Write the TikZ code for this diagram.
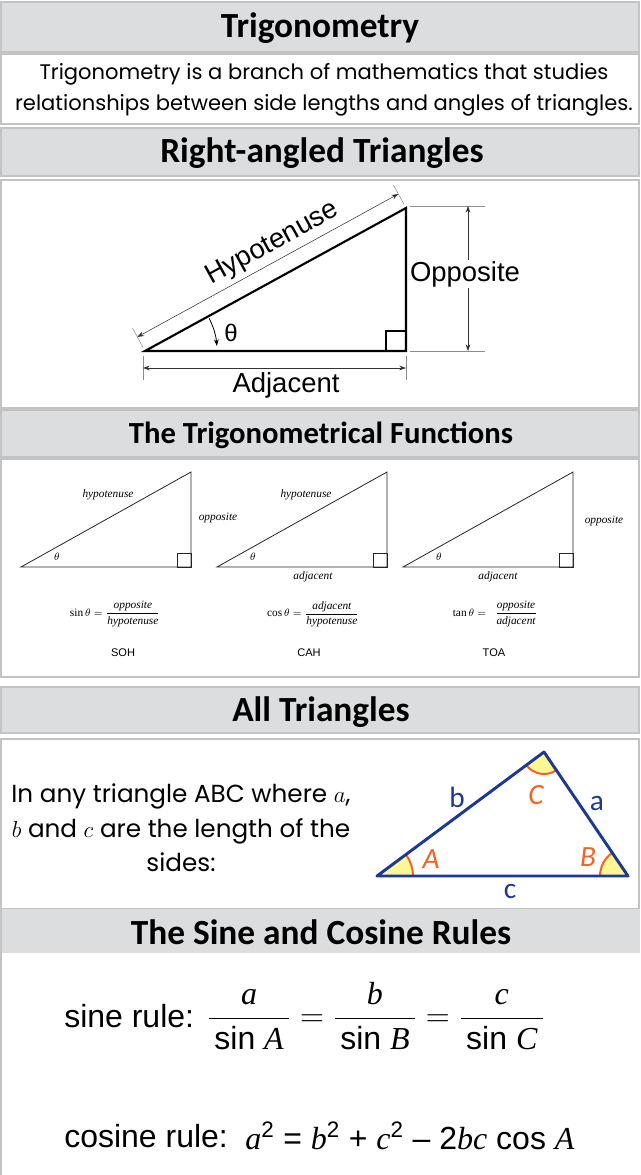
\documentclass[tikz,border=0pt]{standalone}
\usepackage{amsmath}
\usepackage{fontspec}
\setmainfont{Liberation Serif}
\setsansfont{Liberation Sans}
\newfontfamily\headfont{Carlito}
\newfontfamily\comicfont{Poppins}
\usetikzlibrary{arrows.meta, calc}
\definecolor{xBand}{RGB}{220,221,223}
\definecolor{xEdge}{RGB}{194,195,197}
\definecolor{xBlue}{RGB}{28,56,148}
\definecolor{xOrange}{RGB}{242,101,34}
\definecolor{xYellow}{RGB}{255,246,150}
\newcommand{\tv}[1]{\textrm{\itshape #1}}
\tikzset{
  band/.style={fill=xBand, draw=xEdge, line width=1.8pt},
  panel/.style={fill=white, draw=xEdge, line width=1.8pt},
  heading/.style={font=\headfont\bfseries\fontsize{26.5}{30}\selectfont, inner sep=0pt},
  subheading/.style={font=\headfont\bfseries\fontsize{23}{26}\selectfont, inner sep=0pt},
  blurb/.style={font=\comicfont\fontsize{15.8}{23}\selectfont, align=center, inner sep=0pt},
  sidetext/.style={font=\sffamily\fontsize{20.6}{24}\selectfont, inner sep=1pt},
  tag/.style={font=\rmfamily\itshape\fontsize{8.5}{10}\selectfont, inner sep=0pt},
  formula/.style={font=\rmfamily\fontsize{8.5}{10}\selectfont, inner sep=0pt},
  mnemo/.style={font=\sffamily\fontsize{8.3}{10}\selectfont, inner sep=0pt},
  side/.style={font=\headfont\fontsize{22}{24}\selectfont, text=xBlue, inner sep=0pt},
  corner/.style={font=\headfont\itshape\fontsize{22}{24}\selectfont, text=xOrange, inner sep=0pt},
  rule/.style={font=\sffamily\fontsize{24}{28}\selectfont, inner sep=0pt, anchor=west},
  dimline/.style={{Stealth[length=5pt, width=3.5pt]}-{Stealth[length=5pt, width=3.5pt]}, line width=0.4pt, black!80},
  extline/.style={line width=0.4pt, black!45},
  bigtri/.style={line width=1.6pt},
  smalltri/.style={line width=0.6pt, black!85},
}

\begin{document}
\begin{tikzpicture}[x=0.75pt, y=-0.75pt]
    \useasboundingbox (0,0) rectangle (640,1175);
    % bands and panels
    \draw[band]  (1,2)   rectangle (639,52);
    \draw[panel] (1,54)  rectangle (639,124);
    \draw[band]  (1,128) rectangle (639,176);
    \draw[panel] (1,180) rectangle (639,408);
    \draw[band]  (1,410) rectangle (639,457);
    \draw[panel] (1,459) rectangle (639,677);
    \draw[band]  (1,687) rectangle (639,733);
    \draw[panel] (1,739) rectangle (639,909);
    \fill[xBand] (0,909) rectangle (640,953);
    \draw[xEdge, line width=1.8pt] (1,909) -- (1,1175);

    \node[heading] (hTrig) at (320,28) {Trigonometry};
    \node[blurb] (bIntro) at (324,90) {Trigonometry is a branch of mathematics that studies\\relationships between side lengths and angles of triangles.};
    \node[heading] (hRight) at (322,153) {Right-angled Triangles};
    \node[subheading] (hFunc) at (321,435) {The Trigonometrical Functions};
    \node[heading] (hAll) at (321,712) {All Triangles};
    \node[heading] (hRules) at (321,932) {The Sine and Cosine Rules};

    % right-angled triangle
    \coordinate (rA) at (145,351);
    \coordinate (rR) at (406,351);
    \coordinate (rT) at (406,208);
    \draw[bigtri] (rA) -- (rR) -- (rT) -- cycle;
    \draw[line width=0.8pt] ($(rR)+(-20,0)$) rectangle ($(rR)+(0,-20)$);
    \coordinate (rA1) at ($(rA)+(-7.7,-14)$);
    \coordinate (rT1) at ($(rT)+(-7.7,-14)$);
    \draw[extline] ($(rA)+(-1.9,-3.5)$) -- ($(rA)+(-12.5,-22.8)$);
    \draw[extline] ($(rT)+(-1.9,-3.5)$) -- ($(rT)+(-12.5,-22.8)$);
    \draw[dimline] (rA1) -- (rT1);
    \node[sidetext, rotate=28.7] (tHyp) at (272.5,244) {Hypotenuse};
    \draw[extline] (410,206) -- (485,206);
    \draw[extline] (410,351) -- (485,351);
    \coordinate (rO1) at (468,206);
    \coordinate (rO2) at (468,351);
    \draw[dimline] (rO1) -- (rO2);
    \node[sidetext, fill=white] (tOpp) at (465,274) {Opposite};
    \draw[extline] (143,356) -- (143,380);
    \draw[extline] (406,356) -- (406,380);
    \coordinate (rB1) at (143,368);
    \coordinate (rB2) at (406,368);
    \draw[dimline] (rB1) -- (rB2);
    \node[sidetext] (tAdj) at (286,385) {Adjacent};
    \draw[-{Stealth[length=5pt, width=3.5pt]}, line width=0.6pt] ($(rA)+(-27:72)$) arc[start angle=-27, end angle=-4, radius=72];
    \node[font=\sffamily\fontsize{18}{20}\selectfont, inner sep=0pt] (tTheta) at (231,333) {θ};

    % the three function triangles
    \foreach \ox in {21,217,403} {
      \draw[smalltri] (\ox,567) -- ++(170,0) -- ++(0,-95) -- cycle;
      \draw[smalltri] (\ox+156,567) rectangle ++(14,-14);
      \node[tag] at (\ox+36,557) {$\theta$};
    }
    \node[tag] (sHyp1) at (108,495) {hypotenuse};
    \node[tag] (sOpp1) at (218,518) {opposite};
    \node[tag] (sHyp2) at (306,495) {hypotenuse};
    \node[tag] (sAdj2) at (313,577) {adjacent};
    \node[tag] (sAdj3) at (498,577) {adjacent};
    \node[tag] (sOpp3) at (604,521) {opposite};
    \node[formula] (fSin) at (115,614) {$\displaystyle \sin\theta = \frac{\textit{opposite}}{\textit{hypotenuse}}$};
    \node[formula] (fCos) at (313,614) {$\displaystyle \cos\theta = \frac{\textit{adjacent}}{\textit{hypotenuse}}$};
    \node[formula] (fTan) at (495,614) {$\displaystyle \tan\theta =\ \ \frac{\textit{opposite}}{\textit{adjacent}}$};
    \node[mnemo] (mSoh) at (123,653) {SOH};
    \node[mnemo] (mCah) at (309,653) {CAH};
    \node[mnemo] (mToa) at (494,653) {TOA};

    % any triangle
    \node[blurb, font=\comicfont\fontsize{18.5}{26}\selectfont] (bAny) at (181,828) {In any triangle ABC where $a$,\\$b$ and $c$ are the length of the\\sides:};
    \coordinate (vA) at (377,876);
    \coordinate (vB) at (628,876);
    \coordinate (vC) at (544,752);
    \fill[xYellow] (vA) -- ++(0:36) arc[start angle=0, end angle=-36.6, radius=36] -- cycle;
    \fill[xYellow] (vB) -- ++(-180:28) arc[start angle=-180, end angle=-124.1, radius=28] -- cycle;
    \fill[xYellow] (vC) -- ++(55.9:22) arc[start angle=55.9, end angle=143.4, radius=22] -- cycle;
    \draw[xOrange, line width=1.5pt] ($(vA)+(0:36)$) arc[start angle=0, end angle=-36.6, radius=36];
    \draw[xOrange, line width=1.5pt] ($(vB)+(-180:28)$) arc[start angle=-180, end angle=-124.1, radius=28];
    \draw[xOrange, line width=1.5pt] ($(vC)+(55.9:22)$) arc[start angle=55.9, end angle=143.4, radius=22];
    \draw[xBlue, line width=2.2pt, line join=round] (vA) -- (vB) -- (vC) -- cycle;
    \node[side] (sb) at (457,797) {b};
    \node[side] (sa) at (597,803) {a};
    \node[side] (sc) at (510,891) {c};
    \node[corner] (cC) at (536,795) {C};
    \node[corner] (cA) at (431,859) {A};
    \node[corner] (cB) at (588,857) {B};

    % sine and cosine rules
    \node[rule] (rSine) at (64,1016) {sine rule:};
    \node[rule] (rSineEq) at (207,1016) {$\displaystyle \frac{\tv{a}}{\,\textsf{sin}\ \tv{A}\,} = \frac{\tv{b}}{\,\textsf{sin}\ \tv{B}\,} = \frac{\tv{c}}{\,\textsf{sin}\ \tv{C}\,}$};
    \node[rule] (rCos) at (64,1136) {cosine rule:};
    \node[rule] (rCosEq) at (245,1136) {\tv{a}\textsuperscript{2}\;=\;\tv{b}\textsuperscript{2}\;+\;\tv{c}\textsuperscript{2}\;–\;2\tv{bc} cos \tv{A}};
\end{tikzpicture}
\end{document}
